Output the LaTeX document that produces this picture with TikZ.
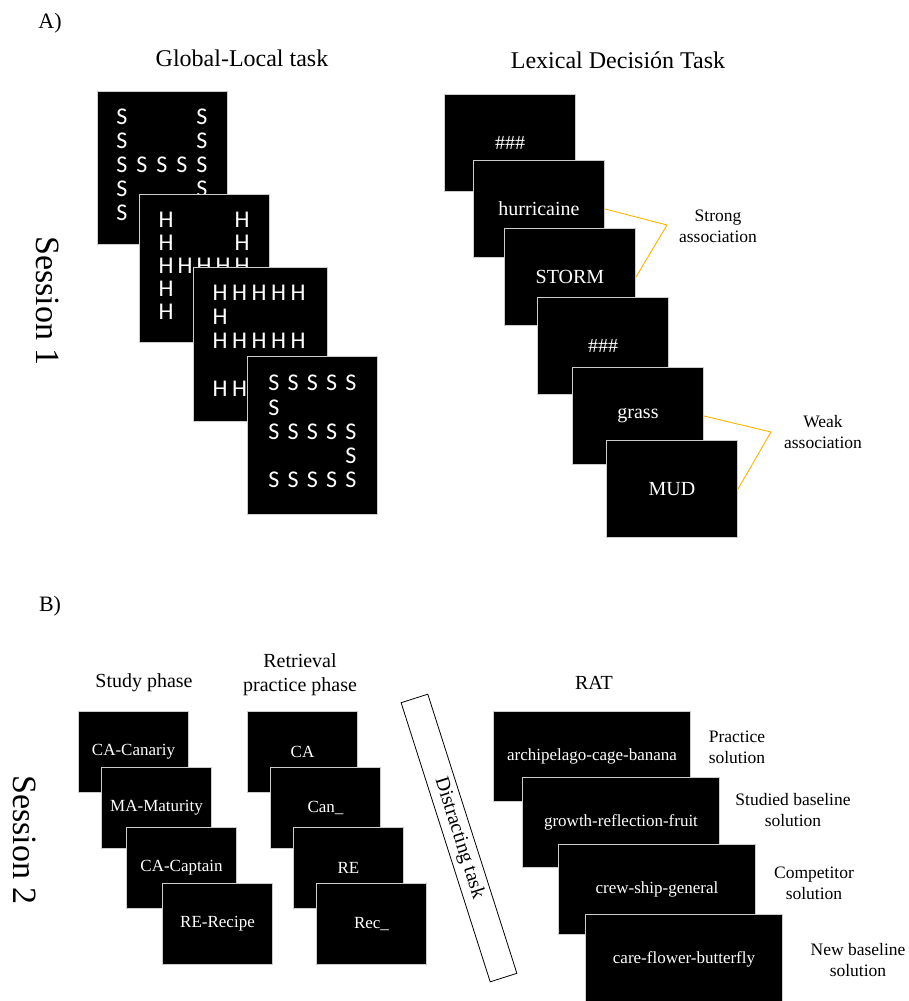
\documentclass[tikz,border=0pt]{standalone}
\usepackage{fontspec}
\setmainfont{Liberation Serif}
\newfontfamily\glfont{Carlito}
\usetikzlibrary{calc}
\newcommand\topsz{\fontsize{24}{28}\selectfont}
\newcommand\hdsz{\fontsize{20}{24}\selectfont}
\newcommand\lblsz{\fontsize{17.5}{21}\selectfont}
\newcommand\scrsz{\fontsize{17}{20}\selectfont}
\tikzset{
  screen/.style={fill=black,draw=white!80!black,line width=1pt,inner sep=0pt,text=white,anchor=north west},
  glletter/.style={text=white,inner sep=0pt,font=\glfont\fontsize{24}{24}\selectfont},
  assoc/.style={draw=orange!60!yellow,line width=0.9pt},
  lbl/.style={align=center,font=\lblsz},
}
\begin{document}
\begin{tikzpicture}[x=1pt,y=-1pt]
\useasboundingbox (0,0) rectangle (909,1001);
\node[font=\fontsize{22}{26}\selectfont] (A) at (50,23) {A)};
\node[font=\fontsize{22}{26}\selectfont] (B) at (50,606) {B)};
\node[font=\fontsize{34}{40}\selectfont,rotate=-90] (s1) at (48,301) {Session 1};
\node[font=\fontsize{34}{40}\selectfont,rotate=-90] (s2) at (25,840) {Session 2};
\node[font=\topsz] (glt) at (242,58) {Global-Local task};
\node[font=\topsz] (lxt) at (618,60) {Lexical Decisión Task};

\node[screen,minimum width=130,minimum height=153] (gl1) at (97,91) {};
\foreach \c/\r in {0/0,0/1,0/2,0/3,0/4,1/2,2/2,3/2,4/0,4/1,4/2,4/3,4/4}
  \node[glletter] at ($(gl1.north west)+(25+20*\c,26+24*\r)$) {S};
\node[screen,minimum width=130,minimum height=148] (gl2) at (139,194) {};
\foreach \c/\r in {0/0,0/1,0/2,0/3,0/4,1/2,2/2,3/2,4/0,4/1,4/2,4/3,4/4}
  \node[glletter] at ($(gl2.north west)+(27+19*\c,26+23*\r)$) {H};
\node[screen,minimum width=134,minimum height=154] (gl3) at (193,267) {};
\foreach \c/\r in {0/0,1/0,2/0,3/0,4/0,0/1,0/2,1/2,2/2,3/2,4/2,4/3,0/4,1/4,2/4,3/4,4/4}
  \node[glletter] at ($(gl3.north west)+(27+19.5*\c,26+24*\r)$) {H};
\node[screen,minimum width=130,minimum height=158] (gl4) at (247,356) {};
\foreach \c/\r in {0/0,1/0,2/0,3/0,4/0,0/1,0/2,1/2,2/2,3/2,4/2,4/3,0/4,1/4,2/4,3/4,4/4}
  \node[glletter] at ($(gl4.north west)+(27+19.2*\c,27+24.3*\r)$) {S};

\foreach \i/\p/\w in {1/{444,94}/\#\#\#,2/{473,160}/hurricaine,3/{504,228}/STORM,4/{537,297}/\#\#\#,5/{572,367}/grass,6/{606,440}/MUD}
  \node[screen,minimum width=131,minimum height=97,font=\fontsize{20}{24}\selectfont] (lx\i) at (\p) {\w};
\coordinate (strong) at (667,225);
\coordinate (weak) at (771,432);
\draw[assoc] (lx2.east) -- (strong) -- (lx3.east);
\draw[assoc] (lx5.east) -- (weak) -- (lx6.east);
\node[lbl] (strongl) at (718,226) {Strong\\association};
\node[lbl] (weakl) at (823,432) {Weak\\association};

\node[font=\hdsz] (stt) at (144,683) {Study phase};
\node[font=\hdsz,align=center] (rpt) at (300,675) {Retrieval\\practice phase};
\node[font=\hdsz] (ratt) at (594,683) {RAT};
\foreach \i/\p/\w in {1/{78,711}/CA-Canariy,2/{101,767}/MA-Maturity,3/{126,827}/CA-Captain,4/{162,883}/RE-Recipe}
  \node[screen,minimum width=110,minimum height=81,font=\scrsz] (st\i) at (\p) {\w};
\foreach \i/\p/\w in {1/{247,711}/CA,2/{270,767}/Can\_,3/{293,827}/RE,4/{316,883}/Rec\_}
  \node[screen,minimum width=110,minimum height=81,font=\scrsz] (rp\i) at (\p) {\w};
\node[draw,line width=0.8pt,rotate=-72.3,minimum width=293,minimum height=28,inner sep=0pt,font=\hdsz] (dist) at (459,838) {Distracting task};
\foreach \i/\p/\w in {1/{493,711}/archipelago-cage-banana,2/{522,777}/growth-reflection-fruit,3/{558,844}/crew-ship-general,4/{585,914}/care-flower-butterfly}
  \node[screen,minimum width=197,minimum height=90,font=\scrsz] (rat\i) at (\p) {\w};
\node[lbl] (r1l) at (737,747) {Practice\\solution};
\node[lbl] (r2l) at (793,810) {Studied baseline\\solution};
\node[lbl] (r3l) at (814,883) {Competitor\\solution};
\node[lbl] (r4l) at (858,960) {New baseline\\solution};
\end{tikzpicture}
\end{document}
